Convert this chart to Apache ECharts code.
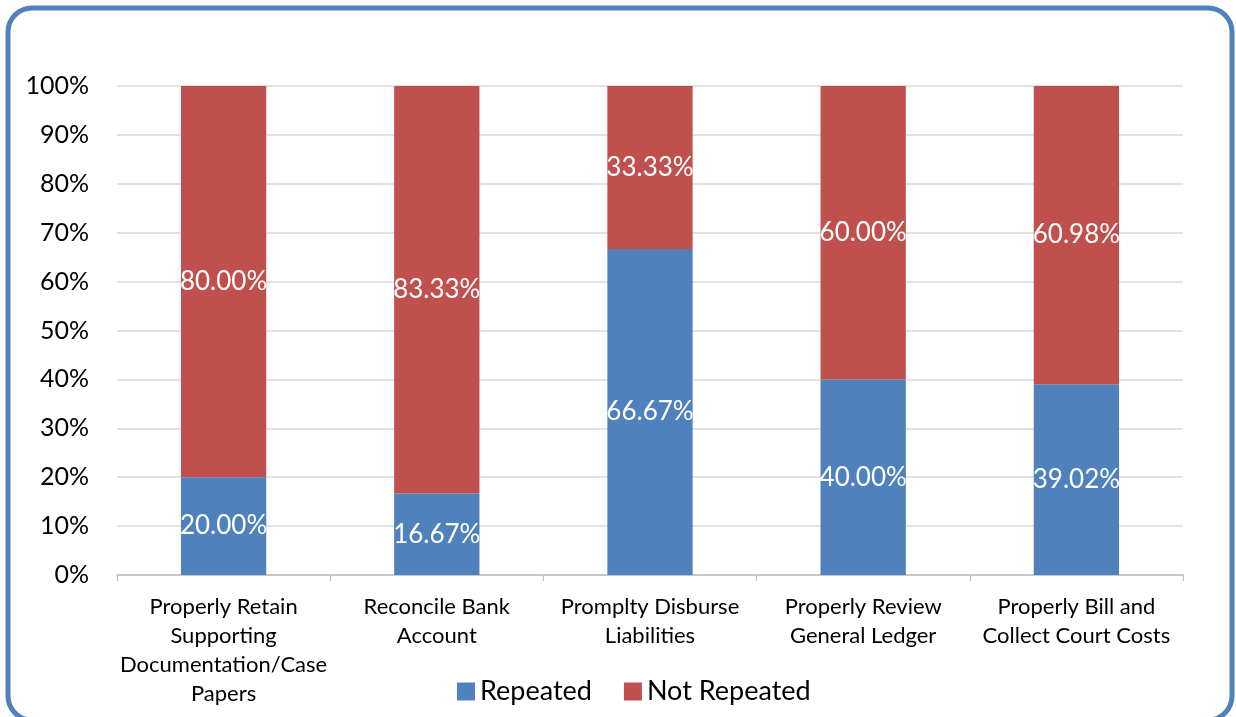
<!DOCTYPE html>
<html>
<head>
<meta charset="utf-8">
<script src="https://cdn.jsdelivr.net/npm/echarts@6/dist/echarts.min.js"></script>
<style>
html, body { margin: 0; padding: 0; background: #fff; }
#chart { width: 1236px; height: 717px; }
</style>
</head>
<body>
<div id="chart"></div>
<script>
var categories = [
    'Properly Retain\nSupporting\nDocumentation/Case\nPapers',
    'Reconcile Bank\nAccount',
    'Promplty Disburse\nLiabilities',
    'Properly Review\nGeneral Ledger',
    'Properly Bill and\nCollect Court Costs'
]
var repeated = [20.00, 16.67, 66.67, 40.00, 39.02]
var notRepeated = [80.00, 83.33, 33.33, 60.00, 60.98]

var font = 'Lato, "Open Sans", sans-serif'
var myChart = echarts.init(document.getElementById('chart'))

var barLabel = {
    show: true,
    position: 'inside',
    color: '#fff',
    fontSize: 26,
    fontFamily: font,
    formatter: function (p) { return p.value.toFixed(2) + '%' }
}

var option = {
    animation: false,
    textStyle: { fontFamily: font },
    graphic: [{
        type: 'rect',
        shape: { x: 8, y: 8, width: 1224, height: 712, r: 24 },
        style: { fill: 'none', stroke: '#4F81BD', lineWidth: 5 },
        silent: true
    }],
    grid: { left: 117, right: 53, top: 86, bottom: 142 },
    legend: {
        bottom: 7,
        left: 452,
        itemWidth: 18,
        itemHeight: 18,
        itemGap: 32,
        icon: 'rect',
        textStyle: { fontSize: 27, color: '#000', fontFamily: font },
        data: ['Repeated', 'Not Repeated']
    },
    xAxis: {
        type: 'category',
        data: categories,
        axisLine: { lineStyle: { color: '#bfbfbf', width: 1.5 } },
        axisTick: { show: true, length: 6, lineStyle: { color: '#bfbfbf' } },
        axisLabel: {
            color: '#000',
            fontSize: 22,
            lineHeight: 29,
            margin: 17,
            interval: 0,
            fontFamily: font
        }
    },
    yAxis: {
        type: 'value',
        min: 0,
        max: 100,
        interval: 10,
        axisLine: { show: false },
        axisTick: { show: false },
        splitLine: { lineStyle: { color: '#d9d9d9', width: 1.5 } },
        axisLabel: {
            color: '#000',
            fontSize: 25,
            margin: 28,
            fontFamily: font,
            formatter: '{value}%'
        }
    },
    series: [
        {
            name: 'Repeated',
            type: 'bar',
            stack: 'total',
            barWidth: '40%',
            itemStyle: { color: '#4F81BD' },
            label: barLabel,
            data: repeated
        },
        {
            name: 'Not Repeated',
            type: 'bar',
            stack: 'total',
            barWidth: '40%',
            itemStyle: { color: '#C0504D' },
            label: barLabel,
            data: notRepeated
        }
    ]
}
myChart.setOption(option)
</script>
</body>
</html>
